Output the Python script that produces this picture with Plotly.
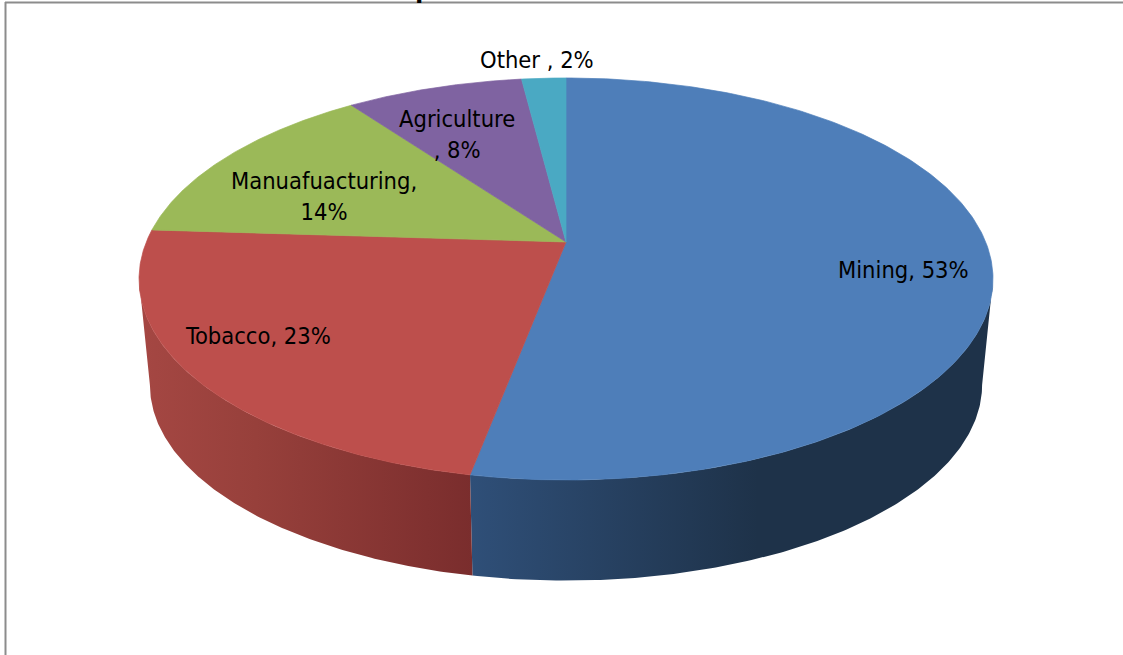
import numpy as np
import plotly.graph_objects as go

categories = ["Mining", "Tobacco", "Manuafuacturing", "Agriculture", "Other "]
values = [53, 23, 14, 8, 2]
top_colors = ["#4E7EB9", "#BD4F4C", "#9BB958", "#7F63A1", "#4AA9C3"]

W, H = 1123, 655
X0 = 566
P = 0.184                      # perspective strength
TOP = dict(y0=242, A=194.2, B=419.7)
BASE = dict(y0=349, A=189.0, B=409.0)


def project(t_deg, g):
    t = np.radians(t_deg)
    u, v = np.sin(t), np.cos(t)
    d = 1 + P * v
    return X0 + g["B"] * u / d, g["y0"] - g["A"] * v / d


cum = np.cumsum([0] + values) / sum(values) * 360
t_star = np.degrees(np.arccos(-P))

fig = go.Figure()

# side walls
sides = [
    (t_star, cum[1], [[0, "#2F4F78"], [0.55, "#1E3249"], [1, "#1E3249"]]),
    (cum[1], 360 - t_star, [[0, "#A54743"], [0.35, "#97403B"], [1, "#7A2D2D"]]),
]
for a, b, scale in sides:
    ts = np.linspace(a, b, 160)
    xt, yt = project(ts, TOP)
    xb, yb = project(ts[::-1], BASE)
    fig.add_trace(go.Scatter(
        x=np.r_[xt, xb, xt[0]], y=np.r_[yt, yb, yt[0]],
        mode="lines", line=dict(width=0), fill="toself",
        fillgradient=dict(type="horizontal", colorscale=scale),
        hoverinfo="skip", showlegend=False))

# top face wedges
for i, name in enumerate(categories):
    ts = np.linspace(cum[i], cum[i + 1], 240)
    x, y = project(ts, TOP)
    fig.add_trace(go.Scatter(
        x=np.r_[X0, x, X0], y=np.r_[TOP["y0"], y, TOP["y0"]],
        mode="lines", line=dict(width=0.7, color=top_colors[i]),
        fill="toself", fillcolor=top_colors[i],
        name=name, hoverinfo="name", showlegend=False))

label_text = ["Mining, 53%", "Tobacco, 23%", "Manuafuacturing,<br>14%",
              "Agriculture<br>, 8%", "Other , 2%"]
label_pos = [(903, 270), (258, 336), (324, 196), (457, 134), (537, 60)]
for s, (lx, ly) in zip(label_text, label_pos):
    fig.add_annotation(x=lx, y=ly, text=s, showarrow=False, xref="x", yref="y",
                       font=dict(family="DejaVu Sans Condensed, DejaVu Sans", size=23.5, color="#000000"),
                       align="center", xanchor="center", yanchor="middle")

# clipped chart title fragment at the top edge
fig.add_annotation(x=424, y=2, text="<b>p</b>", showarrow=False, xref="x", yref="y",
                   font=dict(family="Liberation Sans", size=30, color="#000000"),
                   xanchor="center", yanchor="bottom", yshift=-3)

# chart-area frame
fig.add_shape(type="line", xref="x", yref="y", x0=5.5, x1=5.5, y0=2, y1=H,
              line=dict(color="#8C8C8C", width=2))
fig.add_shape(type="line", xref="x", yref="y", x0=5, x1=W, y0=2.5, y1=2.5,
              line=dict(color="#8C8C8C", width=2))

fig.update_layout(
    width=W, height=H, margin=dict(l=0, r=0, t=0, b=0),
    paper_bgcolor="white", plot_bgcolor="white",
    xaxis=dict(range=[0, W], visible=False, fixedrange=True),
    yaxis=dict(range=[H, 0], visible=False, fixedrange=True),
)
fig.write_html("out.html", post_script="document.body.style.margin='0';",
               config=dict(displayModeBar=False))
